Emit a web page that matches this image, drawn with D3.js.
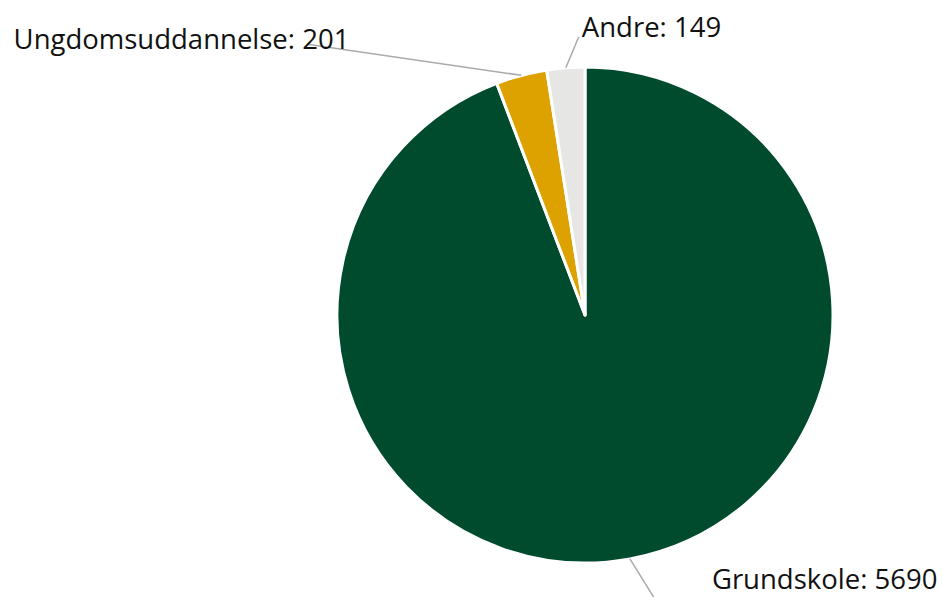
<!DOCTYPE html>
<html>
<head>
<meta charset="utf-8">
<script src="https://cdn.jsdelivr.net/npm/d3@7"></script>
<style>
  html, body { margin: 0; padding: 0; background: #fff; }
  svg { display: block; }
</style>
</head>
<body>
<div id="chart"></div>
<script>
// data
var categories = ["Grundskole", "Ungdomsuddannelse", "Andre"];
var values = [5690, 201, 149];
var colors = ["#004b2e", "#dda200", "#e6e6e4"];

var width = 943, height = 597;
var cx = 585, cy = 315, radius = 248;

var svg = d3.select("#chart").append("svg")
  .attr("width", width)
  .attr("height", height);

var g = svg.append("g")
  .attr("transform", "translate(" + cx + "," + cy + ")");

var data = categories.map(function(c, i) {
  return { name: c, value: values[i], color: colors[i] };
});

var pie = d3.pie()
  .sort(null)
  .value(function(d) { return d.value; });

var arc = d3.arc()
  .innerRadius(0)
  .outerRadius(radius);

var arcs = pie(data);

g.selectAll("path.slice")
  .data(arcs)
  .enter().append("path")
  .attr("class", "slice")
  .attr("d", arc)
  .attr("fill", function(d) { return d.data.color; })
  .attr("stroke", "#fff")
  .attr("stroke-width", 3)
  .attr("stroke-linejoin", "round");

// label placement (relative to the edge point of each slice)
var labelLayout = {
  Grundskole:        { line: [[23, 37], [30, 50]], text: [82, 30], anchor: "start" },
  Ungdomsuddannelse: { line: [[-214, -31]],        text: [-172, -26], anchor: "end" },
  Andre:             { line: [[13, -31]],          text: [16, -31], anchor: "start" }
};

function edgePoint(d) {
  var a = (d.startAngle + d.endAngle) / 2;
  return [Math.sin(a) * radius, -Math.cos(a) * radius];
}

arcs.forEach(function(d) {
  var p = edgePoint(d);
  var lay = labelLayout[d.data.name];
  var pts = [p].concat(lay.line.map(function(o) { return [p[0] + o[0], p[1] + o[1]]; }));
  g.append("path")
    .attr("d", d3.line()(pts))
    .attr("fill", "none")
    .attr("stroke", "#aaaaaa")
    .attr("stroke-width", 1.5);
  g.append("text")
    .attr("x", p[0] + lay.text[0])
    .attr("y", p[1] + lay.text[1])
    .attr("text-anchor", lay.anchor)
    .attr("font-family", "'Open Sans', sans-serif")
    .attr("font-size", 27.5)
    .attr("fill", "#111")
    .text(d.data.name + ": " + d.data.value);
});
</script>
</body>
</html>
